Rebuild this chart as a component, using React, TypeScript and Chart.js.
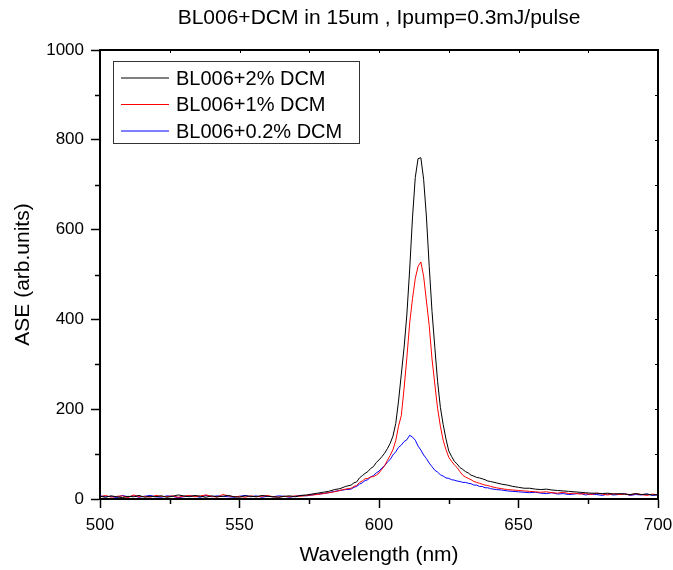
import React, { useEffect, useRef } from "react";
import { Chart, registerables } from "chart.js";

Chart.register(...registerables);

const FONT = "'Liberation Sans', Arial, Helvetica, sans-serif";

const chartTitle = "BL006+DCM in 15um , Ipump=0.3mJ/pulse";
const xTitle = "Wavelength (nm)";
const yTitle = "ASE (arb.units)";
const seriesNames = ["BL006+2% DCM", "BL006+1% DCM", "BL006+0.2% DCM"];
const seriesColors = ["#000000", "#ff0000", "#0000ff"];

const wavelengths = [
  500, 502, 504, 506, 508, 510, 512, 514, 516, 518, 520, 522, 524, 526, 528, 530, 532, 534, 536, 538,
  540, 542, 544, 546, 548, 550, 552, 554, 556, 558, 560, 562, 564, 566, 568, 570, 572, 574, 576, 578,
  580, 582, 584, 586, 588,
  590, 591, 592, 593, 594, 595, 596, 597, 598, 599, 600, 601, 602, 603, 604, 605, 606, 607, 608, 609,
  610, 611, 612, 613, 614, 615, 616, 617, 618, 619, 620, 621, 622, 623, 624, 625, 626, 627, 628, 629,
  630, 631, 632, 633, 634, 635, 636, 637, 638, 639, 640,
  642, 644, 646, 648, 650, 652, 654, 656, 658, 660, 662, 664, 666, 668, 670, 672, 674, 676, 678, 680,
  682, 684, 686, 688, 690, 692, 694, 696, 698, 700,
];

const dcm2 = [
  6, 4, 7, 5, 3, 6, 5, 8, 4, 6, 5, 7, 4, 6, 9, 7, 5, 8, 6, 4,
  7, 5, 6, 8, 5, 4, 7, 6, 5, 8, 6, 5, 4, 6, 7, 5, 8, 9, 11, 13,
  15, 17, 21, 23, 28,
  31, 36, 38, 47, 52, 57, 61, 68, 72, 81, 87, 94, 102, 112, 124, 140, 168, 218, 278, 338,
  412, 512, 626, 716, 758, 760, 712, 628, 518, 418, 338, 262, 204, 166, 134, 107, 95, 84, 78, 70,
  66, 61, 58, 53, 51, 48, 47, 45, 43, 40, 39,
  36, 33, 31, 28, 26, 24, 24, 22, 21, 22, 20, 19, 18, 17, 16, 15, 14, 13, 13, 12,
  13, 11, 12, 11, 10, 12, 10, 11, 9, 10,
];

const dcm1 = [
  5, 8, 4, 6, 7, 3, 9, 5, 6, 4, 8, 6, 5, 7, 4, 6, 8, 5, 7, 9,
  6, 4, 10, 7, 5, 6, 4, 7, 5, 6, 8, 5, 4, 6, 5, 7, 6, 8, 9, 10,
  12, 14, 16, 19, 22,
  24, 28, 30, 37, 40, 45, 46, 49, 50, 53, 58, 66, 74, 86, 97, 110, 130, 162, 186, 247,
  316, 392, 446, 491, 518, 528, 496, 441, 386, 312, 256, 202, 162, 131, 110, 93, 84, 76, 70, 61,
  53, 49, 46, 43, 39, 37, 35, 33, 31, 30, 28,
  25, 23, 21, 20, 19, 18, 17, 16, 15, 16, 14, 13, 15, 12, 13, 11, 12, 10, 13, 11,
  9, 12, 10, 11, 9, 12, 10, 8, 11, 9,
];

const dcm02 = [
  7, 5, 6, 3, 8, 5, 7, 4, 6, 8, 5, 4, 7, 6, 3, 5, 7, 6, 4, 8,
  5, 7, 6, 5, 4, 6, 8, 5, 7, 4, 6, 5, 7, 6, 4, 6, 8, 7, 9, 11,
  12, 14, 17, 19, 21,
  22, 26, 28, 33, 36, 41, 43, 49, 52, 58, 62, 69, 74, 82, 88, 98, 105, 115, 120, 128,
  132, 142, 138, 131, 118, 109, 98, 90, 80, 72, 64, 60, 54, 51, 47, 46, 43, 42, 40, 39,
  37, 37, 35, 34, 31, 31, 28, 28, 25, 25, 23,
  21, 20, 18, 17, 16, 15, 14, 15, 13, 12, 14, 11, 12, 10, 11, 13, 9, 11, 10, 8,
  11, 9, 10, 12, 8, 10, 9, 11, 8, 9,
];

const xTicks = [500, 550, 600, 650, 700];
const xMinorTicks = [525, 575, 625, 675];
const yTicks = [0, 200, 400, 600, 800, 1000];
const yMinorTicks = [100, 300, 500, 700, 900];

const framePlugin = {
  id: "frameAndLegend",
  afterDraw(chart: any) {
    const ctx = chart.ctx;
    const { left, right, top, bottom } = chart.chartArea;
    const xs = chart.scales.x;
    const ys = chart.scales.y;
    ctx.save();
    ctx.strokeStyle = "#000";
    ctx.lineWidth = 2;
    ctx.beginPath();
    ctx.moveTo(left, top);
    ctx.lineTo(right, top);
    ctx.lineTo(right, bottom);
    ctx.stroke();
    ctx.lineWidth = 1.5;
    ctx.beginPath();
    for (const v of yMinorTicks) {
      const py = Math.round(ys.getPixelForValue(v)) + 0.5;
      ctx.moveTo(left, py);
      ctx.lineTo(left - 5, py);
    }
    for (const v of xMinorTicks) {
      const px = Math.round(xs.getPixelForValue(v)) + 0.5;
      ctx.moveTo(px, bottom);
      ctx.lineTo(px, bottom + 5);
    }
    ctx.stroke();
    ctx.lineWidth = 1;
    ctx.beginPath();
    for (const v of [...xTicks, ...xMinorTicks]) {
      const px = Math.round(xs.getPixelForValue(v)) + 0.5;
      ctx.moveTo(px, top);
      ctx.lineTo(px, top + 3);
    }
    for (const v of [...yTicks, ...yMinorTicks]) {
      const py = Math.round(ys.getPixelForValue(v)) + 0.5;
      ctx.moveTo(right, py);
      ctx.lineTo(right - 3, py);
    }
    ctx.stroke();

    const lx = left + 13;
    const ly = top + 11;
    ctx.lineWidth = 1;
    ctx.strokeStyle = "#333";
    ctx.fillStyle = "#fff";
    ctx.fillRect(lx, ly, 246, 82);
    ctx.strokeRect(lx + 0.5, ly + 0.5, 246, 82);
    ctx.font = `20px ${FONT}`;
    ctx.textBaseline = "middle";
    ctx.textAlign = "left";
    seriesNames.forEach((name, i) => {
      const yy = ly + 17 + i * 26.5;
      ctx.strokeStyle = seriesColors[i];
      ctx.lineWidth = 1.2;
      ctx.beginPath();
      ctx.moveTo(lx + 8, yy);
      ctx.lineTo(lx + 56, yy);
      ctx.stroke();
      ctx.fillStyle = "#000";
      ctx.fillText(name, lx + 63, yy + 1);
    });
    ctx.restore();
  },
};

export default function App() {
  const canvasRef = useRef<HTMLCanvasElement | null>(null);

  useEffect(() => {
    document.body.style.margin = "0";
    const canvas = canvasRef.current;
    if (!canvas) return;
    const seriesValues = [dcm2, dcm1, dcm02];
    const chart = new Chart(canvas, {
      type: "line",
      data: {
        datasets: seriesValues.map((vals, i) => ({
          label: seriesNames[i],
          data: wavelengths.map((w, j) => ({ x: w, y: vals[j] })),
          borderColor: seriesColors[i],
          backgroundColor: seriesColors[i],
          borderWidth: 1,
          pointRadius: 0,
          tension: 0,
          fill: false,
        })),
      },
      options: {
        animation: false,
        responsive: false,
        maintainAspectRatio: false,
        layout: { padding: { left: 0, right: 0, top: 0, bottom: 0 } },
        plugins: {
          legend: { display: false },
          tooltip: { enabled: false },
          title: {
            display: true,
            text: chartTitle,
            fullSize: false,
            color: "#000",
            font: { family: FONT, size: 21, weight: "normal", lineHeight: 1.2 },
            padding: { top: 6, bottom: 18.8 },
          },
        },
        scales: {
          x: {
            type: "linear",
            min: 500,
            max: 700,
            afterFit: (s: any) => {
              s.height = 71;
              s.paddingLeft = 0;
              s.paddingRight = 15;
            },
            afterBuildTicks: (s: any) => {
              s.ticks = xTicks.map((v) => ({ value: v }));
            },
            ticks: {
              color: "#000",
              font: { family: FONT, size: 17 },
              padding: 7,
              maxRotation: 0,
              callback: (v: any) => String(v),
            },
            grid: {
              drawOnChartArea: false,
              drawTicks: true,
              tickLength: 9,
              tickColor: "#000",
              tickWidth: 1.5,
            },
            border: { display: true, color: "#000", width: 2 },
            title: {
              display: true,
              text: xTitle,
              color: "#000",
              font: { family: FONT, size: 21 },
              padding: { top: 0, bottom: 2 },
            },
          },
          y: {
            type: "linear",
            min: 0,
            max: 1000,
            afterFit: (s: any) => {
              s.width = 100;
            },
            afterBuildTicks: (s: any) => {
              s.ticks = yTicks.map((v) => ({ value: v }));
            },
            ticks: {
              color: "#000",
              font: { family: FONT, size: 17 },
              padding: 7,
              callback: (v: any) => String(v),
            },
            grid: {
              drawOnChartArea: false,
              drawTicks: true,
              tickLength: 9,
              tickColor: "#000",
              tickWidth: 1.5,
            },
            border: { display: true, color: "#000", width: 2 },
            title: {
              display: true,
              text: yTitle,
              color: "#000",
              font: { family: FONT, size: 21 },
              padding: { top: 11, bottom: 0 },
            },
          },
        },
      },
      plugins: [framePlugin],
    } as any);
    return () => chart.destroy();
  }, []);

  return (
    <div style={{ position: "absolute", left: 0, top: 0, width: 673, height: 570, background: "#fff" }}>
      <canvas ref={canvasRef} width={673} height={570} />
    </div>
  );
}
